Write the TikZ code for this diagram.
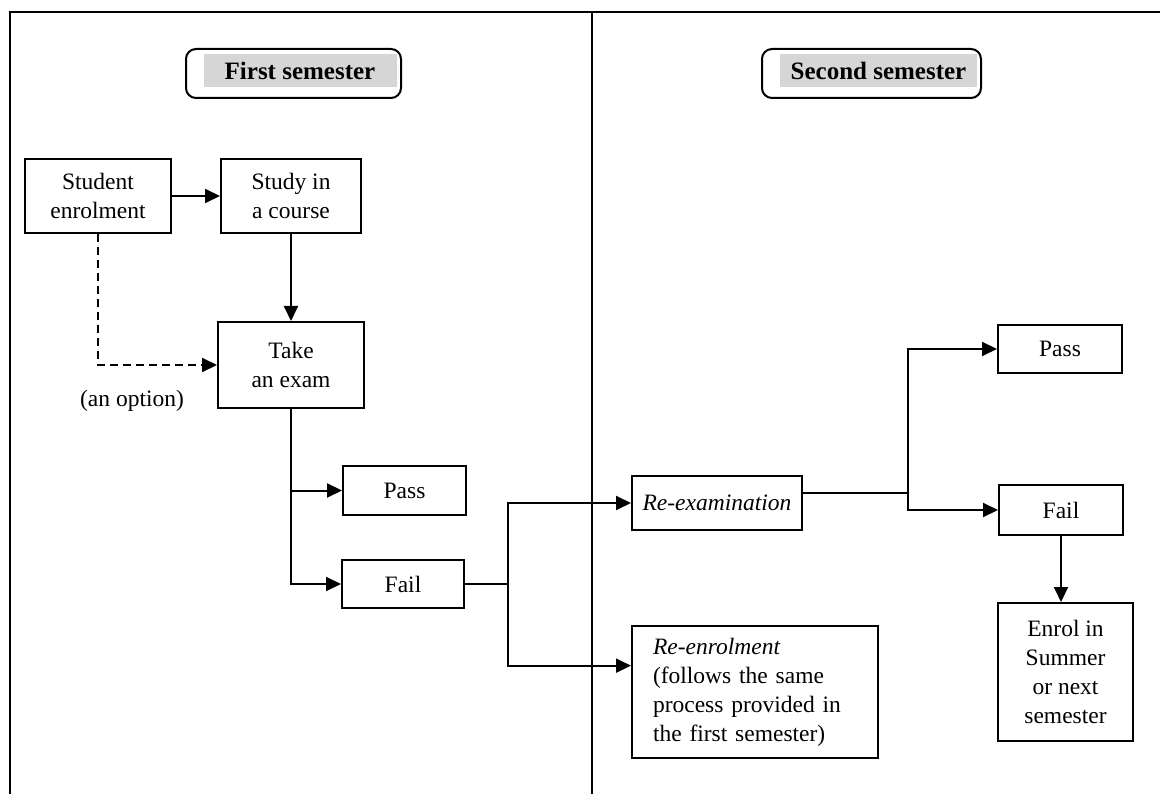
\documentclass[tikz,border=0pt]{standalone}
\usepackage{fontspec}
\setmainfont{Liberation Serif}
\usepackage{tikz}
\usetikzlibrary{arrows.meta, positioning}
\tikzset{
  stepbox/.style={rectangle, draw=black, line width=2pt, align=center,
    inner sep=0pt, font=\fontsize{23.5}{29}\selectfont},
  sembox/.style={rectangle, draw=black, line width=2pt, rounded corners=10pt,
    minimum height=49pt},
  semtitle/.style={rectangle, fill=black!16, inner sep=0pt, minimum height=33pt,
    font=\fontsize{25}{30}\selectfont\bfseries},
  note/.style={inner sep=0pt, font=\fontsize{23.5}{29}\selectfont},
  frameline/.style={line width=2.5pt},
  plainline/.style={line width=2pt},
  arrowline/.style={-{Triangle[length=15pt, width=14pt]}, line width=2pt},
  optionline/.style={arrowline, dash pattern=on 8pt off 5pt}
}

\begin{document}
\begin{tikzpicture}[x=1pt, y=-1pt]
  \useasboundingbox (0,0) rectangle (1160,794);
  % page frame and column rule
  \draw[frameline] (10,794) -- (10,12) -- (1160,12);
  \draw[frameline] (592,12) -- (592,794);

  % column headings
  \node[sembox, minimum width=215pt] (sem1box) at (293.5,73.5) {};
  \node[semtitle, minimum width=193pt] (sem1) at (300,70.5) {First semester};
  \node[sembox, minimum width=219pt] (sem2box) at (871.5,73.5) {};
  \node[semtitle, minimum width=197pt] (sem2) at (878.5,70.5) {Second semester};

  % first semester
  \node[stepbox, minimum width=146pt, minimum height=74pt] (enrol) at (98,196) {Student\\enrolment};
  \node[stepbox, minimum width=140pt, minimum height=74pt] (study) at (291,196) {Study in\\a course};
  \node[stepbox, minimum width=146pt, minimum height=86pt] (exam) at (291,365) {Take\\an exam};
  \node[note] (option) at (132,401) {(an option)};
  \node[stepbox, minimum width=123pt, minimum height=49pt] (pass1) at (404.5,490.5) {Pass};
  \node[stepbox, minimum width=122pt, minimum height=48pt] (fail1) at (403,584) {Fail};
  \coordinate (split1) at (508,584);

  % second semester
  \node[stepbox, minimum width=170pt, minimum height=54pt] (reexam) at (717,503) {\textit{Re-examination}};
  \node[stepbox, align=left, text width=204pt, inner xsep=21pt, minimum height=132pt] (reenrol) at (755,692)
    {\textit{Re-enrolment}\\(follows the same\\process provided in\\the first semester)};
  \coordinate (split2) at (908,493);
  \node[stepbox, minimum width=124pt, minimum height=48pt] (pass2) at (1060,349) {Pass};
  \node[stepbox, minimum width=124pt, minimum height=50pt] (fail2) at (1061,510) {Fail};
  \node[stepbox, minimum width=135pt, minimum height=138pt] (summer) at (1065.5,672) {Enrol in\\Summer\\or next\\semester};

  \draw[arrowline] (enrol) -- (study);
  \draw[optionline] (enrol.south) |- (exam.west);
  \draw[arrowline] (study) -- (exam);
  \draw[arrowline] (exam.south) |- (pass1.west);
  \draw[arrowline] (exam.south) |- (fail1.west);
  \draw[plainline] (fail1.east) -- (split1);
  \draw[arrowline] (split1) |- (reexam.west);
  \draw[arrowline] (split1) |- (reenrol.168);
  \draw[plainline] (reexam.east |- split2) -- (split2);
  \draw[arrowline] (split2) |- (pass2.west);
  \draw[arrowline] (split2) |- (fail2.west);
  \draw[arrowline] (fail2.south) -- (fail2.south |- summer.north);
\end{tikzpicture}
\end{document}
